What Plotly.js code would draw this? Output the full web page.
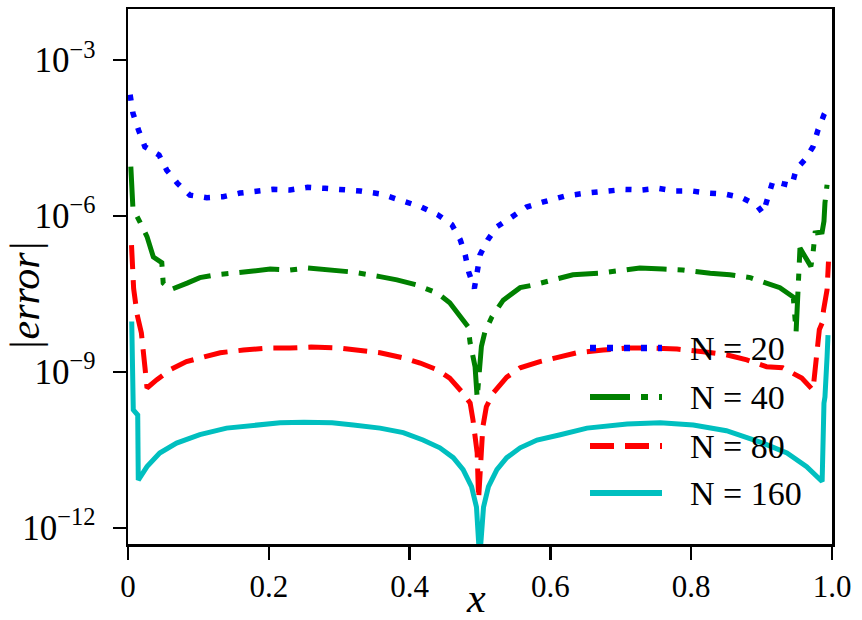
<!DOCTYPE html>
<html>
<head>
<meta charset="utf-8">
<script src="https://cdn.plot.ly/plotly-3.0.1.min.js"></script>
<style>html,body{margin:0;padding:0;background:#fff;}#chart{width:862px;height:620px;}</style>
</head>
<body>
<div id="chart"></div>
<script>
// ---- data ----
const seriesNames = ['N = 20', 'N = 40', 'N = 80', 'N = 160'];

const x20 = [0.003,0.007,0.015,0.024,0.044,0.055,0.070,0.088,0.112,0.135,0.159,0.183,0.206,0.230,0.255,0.280,0.300,0.330,0.360,0.396,0.417,0.440,0.460,0.472,0.479,0.484,0.492,0.496,0.500,0.511,0.524,0.545,0.566,0.590,0.620,0.650,0.682,0.706,0.730,0.753,0.777,0.801,0.824,0.848,0.872,0.893,0.902,0.909,0.916,0.930,0.943,0.949,0.962,0.973,0.980,0.989,0.993];
const y20 = [2.14e-4,9.5e-5,4.47e-5,2.14e-5,1.48e-5,7.6e-6,4.27e-6,2.51e-6,2.24e-6,2.34e-6,2.75e-6,2.95e-6,3.24e-6,3.16e-6,3.55e-6,3.39e-6,3.24e-6,3.02e-6,2.63e-6,1.86e-6,1.48e-6,1.05e-6,6.8e-7,3.47e-7,1.78e-7,8.3e-8,4.07e-8,8.3e-8,1.78e-7,3.47e-7,6.2e-7,9.5e-7,1.48e-6,1.86e-6,2.4e-6,2.75e-6,2.95e-6,3.24e-6,3.16e-6,3.39e-6,3.02e-6,3.02e-6,2.75e-6,2.63e-6,2.24e-6,1.62e-6,1.12e-6,2.34e-6,4.68e-6,4.17e-6,3.8e-6,7.9e-6,1.23e-5,2.14e-5,4.47e-5,9.1e-5,1.12e-4];

const x40 = [0.004,0.007,0.017,0.027,0.036,0.048,0.050,0.060,0.084,0.102,0.126,0.155,0.178,0.202,0.230,0.255,0.290,0.320,0.358,0.382,0.410,0.439,0.457,0.471,0.483,0.486,0.493,0.496,0.502,0.507,0.517,0.533,0.557,0.576,0.604,0.632,0.670,0.694,0.727,0.760,0.788,0.827,0.855,0.884,0.907,0.926,0.945,0.949,0.9545,0.970,0.973,0.976,0.986,0.9886,0.990,0.993];
const y40 = [8.9e-6,1.41e-6,7.6e-7,4.0e-7,1.62e-7,1.26e-7,5.1e-8,3.8e-8,5.1e-8,6.5e-8,7.4e-8,7.9e-8,8.7e-8,9.5e-8,9.1e-8,1.0e-7,9.3e-8,8.3e-8,6.8e-8,5.9e-8,4.7e-8,3.3e-8,2.14e-8,1.26e-8,7.4e-9,3.6e-9,1.26e-9,3.16e-10,3.1e-9,5.9e-9,1.15e-8,2.4e-8,4.17e-8,4.7e-8,5.9e-8,7.4e-8,7.9e-8,8.7e-8,1.0e-7,9.5e-8,9.1e-8,7.9e-8,7.4e-8,6.5e-8,5.1e-8,4.17e-8,2.75e-8,5.9e-9,2.4e-7,1.07e-7,1.9e-7,4.7e-7,4.9e-7,7.9e-7,1.78e-6,3.98e-6];

const x80 = [0.005,0.008,0.013,0.019,0.024,0.027,0.041,0.060,0.083,0.107,0.131,0.164,0.197,0.230,0.260,0.300,0.330,0.358,0.391,0.415,0.439,0.457,0.474,0.486,0.490,0.496,0.498,0.504,0.509,0.519,0.538,0.557,0.585,0.614,0.638,0.675,0.709,0.741,0.780,0.817,0.850,0.879,0.907,0.930,0.957,0.973,0.976,0.980,0.982,0.986,0.988,0.993,0.995];
const y80 = [2.75e-7,4.0e-8,1.26e-8,5.6e-9,1.26e-9,4.9e-10,7.1e-10,1.1e-9,1.58e-9,1.95e-9,2.34e-9,2.63e-9,2.88e-9,2.88e-9,3.0e-9,2.88e-9,2.63e-9,2.34e-9,1.86e-9,1.48e-9,1.1e-9,7.6e-10,4.17e-10,2.51e-10,1.2e-10,2.75e-11,3.55e-12,8.7e-11,2.14e-10,3.98e-10,7.9e-10,1.2e-9,1.58e-9,1.95e-9,2.34e-9,2.63e-9,2.88e-9,2.88e-9,2.75e-9,2.45e-9,2.14e-9,1.7e-9,1.26e-9,1.2e-9,7.6e-10,4.47e-10,1.1e-9,4.17e-9,6.5e-9,8.7e-9,1.55e-8,3.8e-8,1.32e-7];

const x160 = [0.0053,0.0075,0.0138,0.0146,0.027,0.045,0.069,0.102,0.140,0.178,0.216,0.250,0.290,0.320,0.358,0.391,0.419,0.443,0.462,0.476,0.488,0.495,0.4995,0.505,0.512,0.524,0.538,0.557,0.581,0.614,0.652,0.709,0.756,0.803,0.850,0.898,0.936,0.964,0.986,0.9886,0.990,0.993,0.9943];
const y160 = [9.3e-9,1.86e-10,1.48e-10,8.3e-12,1.51e-11,2.75e-11,4.27e-11,6.2e-11,8.3e-11,9.5e-11,1.05e-10,1.07e-10,1.05e-10,9.5e-11,8.3e-11,6.8e-11,4.9e-11,3.47e-11,2.24e-11,1.32e-11,6.2e-12,2.51e-12,2.5e-13,2.51e-12,6.2e-12,1.32e-11,2.24e-11,3.47e-11,4.9e-11,6.2e-11,8.3e-11,1.0e-10,1.05e-10,9.5e-11,7.4e-11,4.47e-11,2.75e-11,1.51e-11,7.8e-12,2.5e-10,3.3e-10,1.95e-9,5.1e-9];

const xTickVals = [0, 0.2, 0.4, 0.6, 0.8, 1.0];
const xTickText = ['0', '0.2', '0.4', '0.6', '0.8', '1.0'];
const yTickVals = [1e-3, 1e-6, 1e-9, 1e-12];
const yTickText = ['10<sup>\u22123</sup>', '10<sup>\u22126</sup>', '10<sup>\u22129</sup>', '10<sup>\u221212</sup>'];
const xTitle = 'x';
const yTitle = '|error|';

// ---- styles ----
const colors = ['#0000ff', '#008000', '#ff0000', '#00bfbf'];
const dashes = ['6px,11px', '40px,11px,7px,11px', '24px,11px', 'solid'];
const widths = [5.5, 5, 5, 5];
const xs = [x20, x40, x80, x160];
const ys = [y20, y40, y80, y160];
const serif = "'Liberation Serif', 'Times New Roman', serif";

const traces = xs.map((xv, i) => ({
  type: 'scatter', mode: 'lines', x: xv, y: ys[i], name: seriesNames[i],
  line: {color: colors[i], width: widths[i], dash: dashes[i]},
  showlegend: false, hoverinfo: 'skip'
}));

// legend drawn in the style of the reference (long handles, no frame)
const legY = [348, 397, 446, 493].map(py => (544 - py) / 535);
const legX0 = (590 - 128) / 704, legX1 = (662 - 128) / 704, legTX = (688 - 128) / 704;
const shapes = legY.map((yy, i) => ({
  type: 'line', xref: 'paper', yref: 'paper', x0: legX0, x1: legX1, y0: yy, y1: yy,
  line: {color: colors[i], width: widths[i] + 1, dash: dashes[i]}
}));
const annotations = legY.map((yy, i) => ({
  xref: 'paper', yref: 'paper', x: legTX, y: yy, xanchor: 'left', yanchor: 'middle',
  text: seriesNames[i], showarrow: false, font: {family: serif, size: 34, color: '#000'}
}));
annotations.push({
  xref: 'paper', yref: 'paper', x: (476 - 128) / 704, y: (544 - 598) / 535,
  xanchor: 'center', yanchor: 'middle', text: xTitle, showarrow: false,
  font: {family: serif, size: 42, color: '#000', style: 'italic'}
});
annotations.push({
  xref: 'paper', yref: 'paper', x: (25 - 128) / 704, y: (544 - 296) / 535,
  xanchor: 'center', yanchor: 'middle', text: yTitle, textangle: -90, showarrow: false,
  font: {family: serif, size: 42, color: '#000', style: 'italic'}
});

const layout = {
  width: 862, height: 620,
  margin: {l: 128, r: 30, t: 9, b: 76},
  paper_bgcolor: '#fff', plot_bgcolor: '#fff',
  font: {family: serif, color: '#000'},
  showlegend: false,
  xaxis: {
    range: [0, 1], tickvals: xTickVals, ticktext: xTickText,
    ticks: 'outside', ticklen: 13, tickwidth: 2.5, tickcolor: '#000',
    showline: true, linewidth: 2.5, linecolor: '#000', mirror: true,
    showgrid: false, zeroline: false,
    tickfont: {family: serif, size: 31, color: '#000'}
  },
  yaxis: {
    type: 'log', range: [-12.31, -2.02], tickvals: yTickVals, ticktext: yTickText,
    ticks: 'outside', ticklen: 13, tickwidth: 2.5, tickcolor: '#000',
    showline: true, linewidth: 2.5, linecolor: '#000', mirror: true,
    showgrid: false, zeroline: false, ticklabelstandoff: 10,
    tickfont: {family: serif, size: 35, color: '#000'}
  },
  shapes: shapes,
  annotations: annotations
};

Plotly.newPlot('chart', traces, layout, {staticPlot: true, displayModeBar: false});
</script>
</body>
</html>
